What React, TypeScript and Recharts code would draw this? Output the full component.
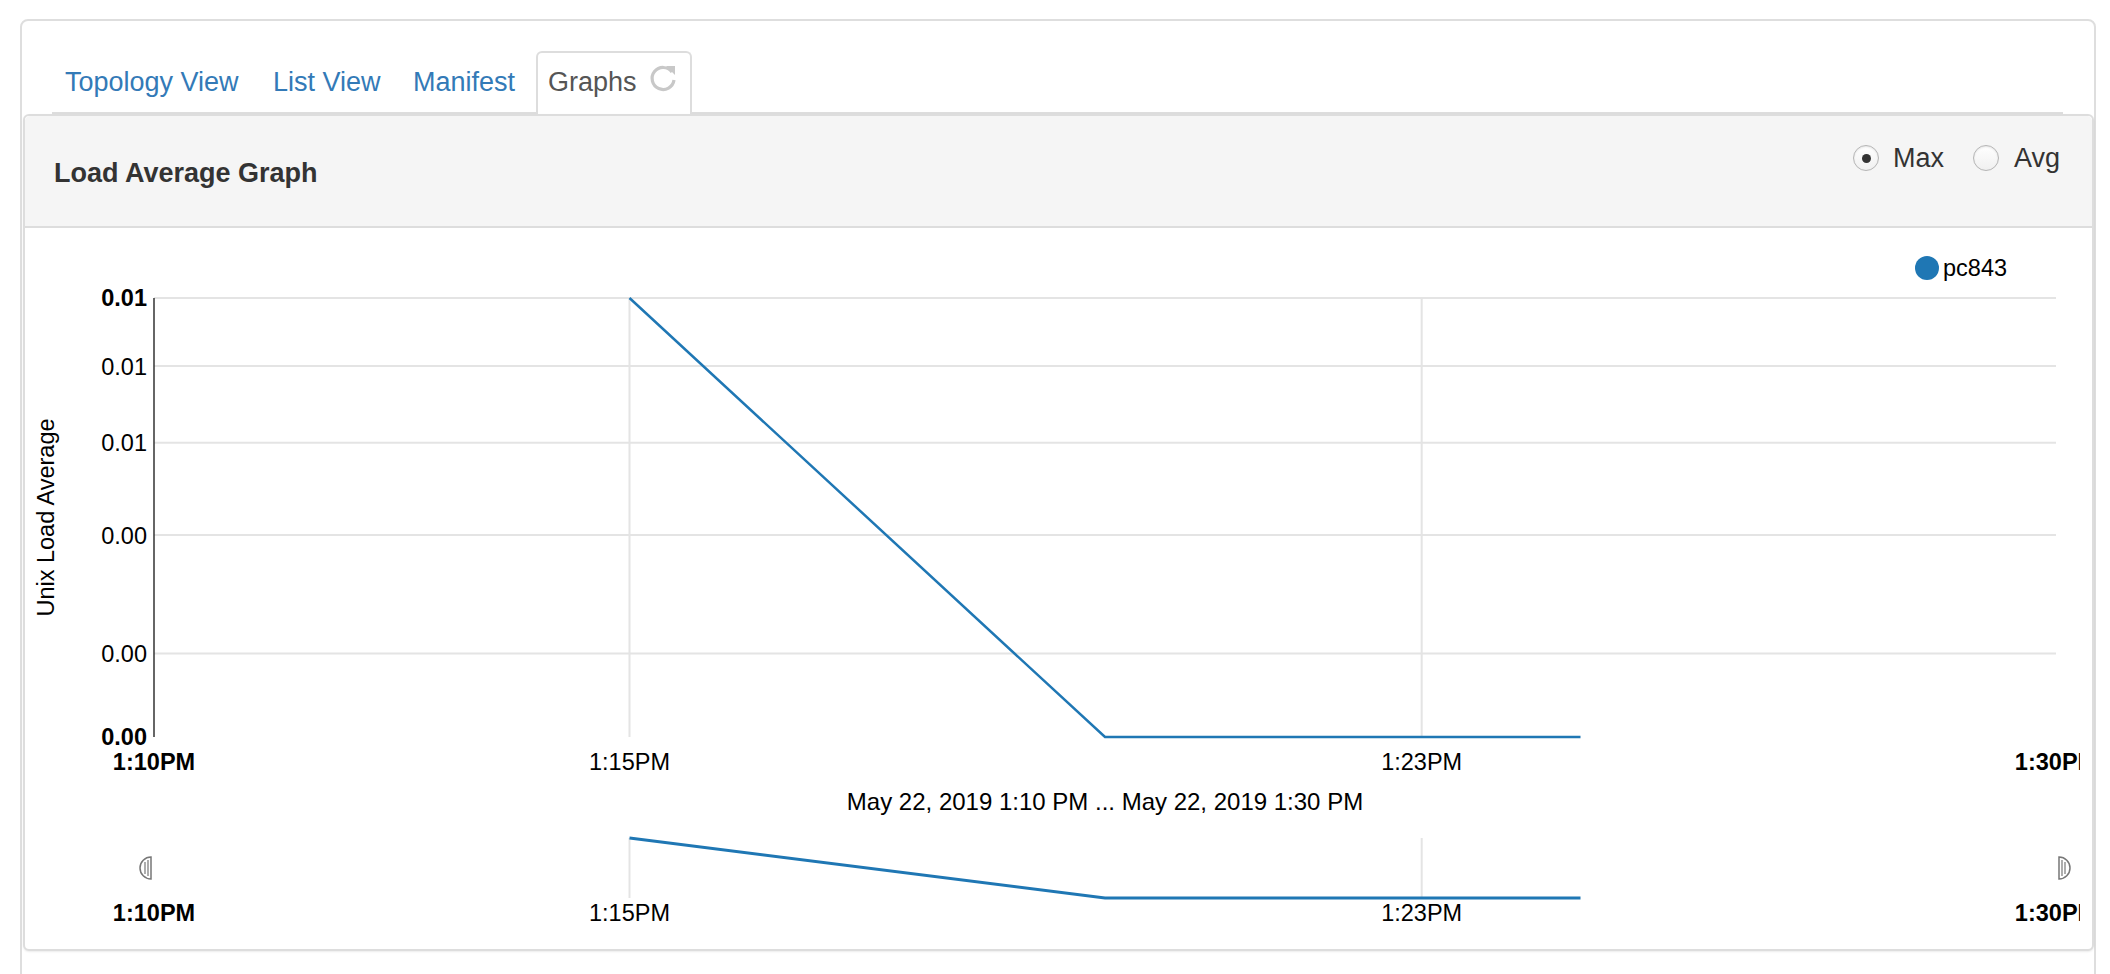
import { LineChart, Line, XAxis, YAxis, ReferenceLine } from 'recharts';

// minutes past 1 PM, May 22 2019
const times = [15, 20, 25];
const loadMax = [0.01, 0, 0];

const xTicks = [10, 15, 23.33, 30];
const xTickLabels = ['1:10PM', '1:15PM', '1:23PM', '1:30PM'];
const yTicks = [0, 0.0019, 0.0046, 0.0067, 0.00845, 0.01];
const yGridValues = [0.0019, 0.0046, 0.0067, 0.00845, 0.01];
const xGridValues = [15, 23.33];

const tabs = ['Topology View', 'List View', 'Manifest'];
const seriesName = 'pc843';

const data = times.map((t, i) => ({ t, value: loadMax[i] }));

const FONT = "'Liberation Sans', Arial, Helvetica, sans-serif";
const BLUE = '#1f77b4';
const GRID = '#e4e4e4';

function XTick({ x, y, payload }: any) {
  const i = xTicks.indexOf(payload.value);
  const edge = i === 0 || i === xTicks.length - 1;
  return (
    <text x={x} y={y} dy="0.71em" textAnchor="middle" fontSize={23.5} fontFamily={FONT}
      fontWeight={edge ? 700 : 400} fill="#000">
      {xTickLabels[i]}
    </text>
  );
}

function YTick({ x, y, payload }: any) {
  const i = yTicks.indexOf(payload.value);
  const edge = i === 0 || i === yTicks.length - 1;
  return (
    <text x={x} y={y} dy="0.36em" textAnchor="end" fontSize={23.5} fontFamily={FONT}
      fontWeight={edge ? 700 : 400} fill="#000">
      {payload.value.toFixed(2)}
    </text>
  );
}

function Handle({ left, flip }: { left: number; flip?: boolean }) {
  return (
    <svg width={14} height={24} style={{ position: 'absolute', left, top: 856, transform: flip ? 'scaleX(-1)' : undefined }}>
      <path d="M12 1 A11 11 0 0 0 12 23 Z" fill="#fff" stroke="#777" strokeWidth={1.5} />
      <line x1={6} y1={6} x2={6} y2={18} stroke="#777" strokeWidth={1.2} />
      <line x1={9} y1={4} x2={9} y2={20} stroke="#777" strokeWidth={1.2} />
    </svg>
  );
}

function Radio({ cx, checked }: { cx: number; checked?: boolean }) {
  return (
    <div style={{
      position: 'absolute', left: cx - 13, top: 145, width: 24, height: 24, borderRadius: '50%',
      border: '1.5px solid #b5b5b5', background: 'linear-gradient(#fff, #f0f0f0)',
      boxShadow: 'inset 0 1px 2px rgba(0,0,0,0.1)',
    }}>
      {checked && (
        <div style={{ position: 'absolute', left: 7.5, top: 7.5, width: 9, height: 9, borderRadius: '50%', background: '#333' }} />
      )}
    </div>
  );
}

export default function App() {
  const tabLefts = [65, 273, 413];
  return (
    <div style={{ position: 'absolute', left: 0, top: 0, width: 2110, height: 974, background: '#fff', fontFamily: FONT, overflow: 'hidden' }}>
      {/* outer card */}
      <div style={{ position: 'absolute', left: 20, top: 19, width: 2072, height: 1000, border: '2px solid #dedede', borderRadius: 8 }} />

      {/* tab bar */}
      <div style={{ position: 'absolute', left: 52, top: 112, width: 2011, height: 2, background: '#ddd' }} />
      {tabs.map((t, i) => (
        <div key={t} style={{ position: 'absolute', left: tabLefts[i], top: 64, height: 36, lineHeight: '36px', fontSize: 27, color: '#337ab7', whiteSpace: 'nowrap' }}>{t}</div>
      ))}
      <div style={{ position: 'absolute', left: 536, top: 51, width: 152, height: 64, border: '2px solid #ddd', borderBottom: 'none', borderRadius: '6px 6px 0 0', background: '#fff' }} />
      <div style={{ position: 'absolute', left: 548, top: 64, height: 36, lineHeight: '36px', fontSize: 27, color: '#555' }}>Graphs</div>
      <svg width={30} height={30} style={{ position: 'absolute', left: 648, top: 63 }}>
        <path d="M24 9 A11 11 0 1 0 26 17" fill="none" stroke="#c8c8c8" strokeWidth={3.2} />
        <path d="M18 3 L27 3 L27 12 Z" fill="#c8c8c8" />
      </svg>

      {/* panel */}
      <div style={{ position: 'absolute', left: 23, top: 114, width: 2067, height: 833, border: '2px solid #ddd', borderRadius: 6, background: '#fff', boxShadow: '0 1px 2px rgba(0,0,0,0.08)' }} />
      <div style={{ position: 'absolute', left: 25, top: 116, width: 2067, height: 110, background: '#f5f5f5', borderBottom: '2px solid #ddd', borderRadius: '5px 5px 0 0' }} />
      <div style={{ position: 'absolute', left: 54, top: 155, height: 36, lineHeight: '36px', fontSize: 27, fontWeight: 700, color: '#333' }}>Load Average Graph</div>

      <Radio cx={1866} checked />
      <div style={{ position: 'absolute', left: 1893, top: 140, height: 36, lineHeight: '36px', fontSize: 27, color: '#333' }}>Max</div>
      <Radio cx={1986} />
      <div style={{ position: 'absolute', left: 2014, top: 140, height: 36, lineHeight: '36px', fontSize: 27, color: '#333' }}>Avg</div>

      {/* legend */}
      <div style={{ position: 'absolute', left: 1915, top: 256, width: 24, height: 24, borderRadius: '50%', background: BLUE }} />
      <div style={{ position: 'absolute', left: 1943, top: 252, height: 32, lineHeight: '32px', fontSize: 23.5, color: '#000' }}>{seriesName}</div>

      {/* main chart */}
      <div style={{ position: 'absolute', left: 30, top: 240 }}>
        <LineChart width={2050} height={537} data={data} margin={{ top: 58, right: 24, left: 24, bottom: 0 }}>
          {yGridValues.map((v) => (
            <ReferenceLine key={'h' + v} y={v} stroke={GRID} strokeWidth={2} />
          ))}
          {xGridValues.map((v) => (
            <ReferenceLine key={'v' + v} x={v} stroke={GRID} strokeWidth={2} />
          ))}
          <XAxis dataKey="t" type="number" domain={[10, 30]} ticks={xTicks} interval={0}
            axisLine={false} tickLine={false} tickSize={0} tickMargin={16} height={40} tick={<XTick />} />
          <YAxis type="number" domain={[0, 0.01]} ticks={yTicks} interval={0} width={100}
            axisLine={{ stroke: '#333', strokeWidth: 1.5 }} tickLine={false} tickSize={0} tickMargin={7}
            tick={<YTick />}
            label={{ value: 'Unix Load Average', angle: -90, position: 'insideLeft', offset: -8, style: { textAnchor: 'middle', fontSize: 23.5, fontFamily: FONT, fill: '#000' } }} />
          <Line type="linear" dataKey="value" stroke={BLUE} strokeWidth={2.5} dot={false} isAnimationActive={false} />
        </LineChart>
      </div>
      <div style={{ position: 'absolute', left: 154, width: 1902, top: 786, height: 32, lineHeight: '32px', textAlign: 'center', fontSize: 24, color: '#000' }}>
        May 22, 2019 1:10 PM ... May 22, 2019 1:30 PM
      </div>

      {/* context / brush chart */}
      <div style={{ position: 'absolute', left: 30, top: 820 }}>
        <LineChart width={2050} height={118} data={data} margin={{ top: 18, right: 24, left: 124, bottom: 0 }}>
          {xGridValues.map((v) => (
            <ReferenceLine key={'cv' + v} x={v} stroke={GRID} strokeWidth={2} />
          ))}
          <XAxis dataKey="t" type="number" domain={[10, 30]} ticks={xTicks} interval={0}
            axisLine={false} tickLine={false} tickSize={0} tickMargin={6} height={40} tick={<XTick />} />
          <YAxis type="number" domain={[0, 0.01]} hide />
          <Line type="linear" dataKey="value" stroke={BLUE} strokeWidth={3} dot={false} isAnimationActive={false} />
        </LineChart>
      </div>
      <Handle left={139} />
      <Handle left={2057} flip />
    </div>
  );
}
